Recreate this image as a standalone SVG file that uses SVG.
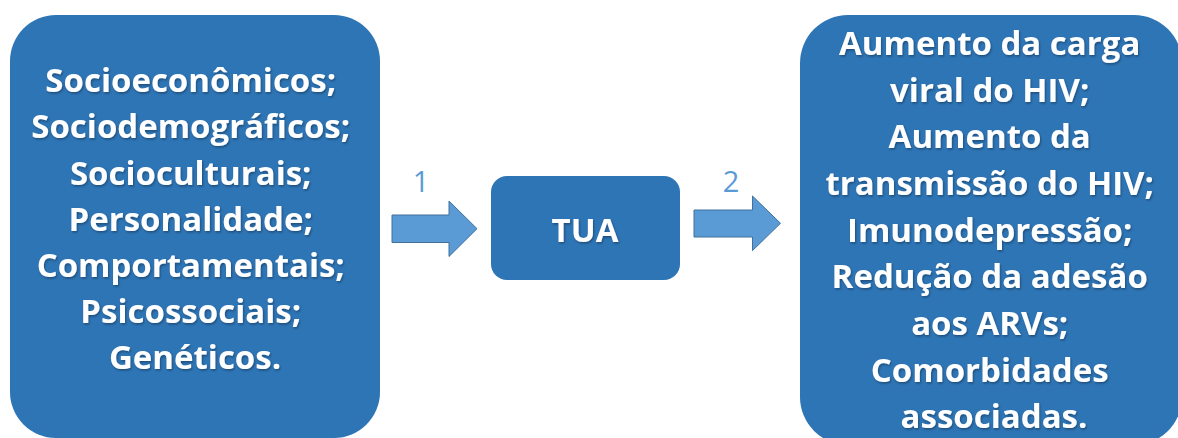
<svg xmlns="http://www.w3.org/2000/svg" width="1178" height="438" viewBox="0 0 1178 438">
  <defs>
    <filter id="ts" x="-10%" y="-10%" width="120%" height="130%">
      <feDropShadow dx="1" dy="1.5" stdDeviation="1" flood-color="#000" flood-opacity="0.35"/>
    </filter>
  </defs>
  <style>
    .box { fill: #2E75B6; }
    .arrow { fill: #5B9BD5; stroke: #41719C; stroke-width: 1; }
    .t { font-family: "Open Sans", "Liberation Sans", sans-serif; font-weight: bold; font-size: 33px; fill: #FFFFFF; text-anchor: middle; filter: url(#ts); }
    .lbl { font-family: "Open Sans", "Liberation Sans", sans-serif; font-size: 29px; fill: #5B9BD5; text-anchor: middle; }
  </style>
  <rect width="1178" height="438" fill="#FFFFFF"/>
  <g id="node-fatores">
    <rect class="box" x="10" y="15" width="370" height="423" rx="46" ry="46"/>
    <text class="t" x="195">
      <tspan x="195" y="92">Socioeconômicos;</tspan>
      <tspan x="195" y="138">Sociodemográficos;</tspan>
      <tspan x="195" y="185">Socioculturais;</tspan>
      <tspan x="195" y="231">Personalidade;</tspan>
      <tspan x="195" y="277">Comportamentais;</tspan>
      <tspan x="195" y="323">Psicossociais;</tspan>
      <tspan x="195" y="369">Genéticos.</tspan>
    </text>
  </g>
  <g id="node-tua">
    <rect class="box" x="491" y="176" width="189" height="104" rx="16" ry="16"/>
    <text class="t" x="585" y="242">TUA</text>
  </g>
  <g id="node-consequencias">
    <rect class="box" x="800" y="15" width="382" height="430" rx="48" ry="48"/>
    <text class="t">
      <tspan x="994" y="55">Aumento da carga</tspan>
      <tspan x="994" y="102">viral do HIV;</tspan>
      <tspan x="994" y="148">Aumento da</tspan>
      <tspan x="994" y="195">transmissão do HIV;</tspan>
      <tspan x="994" y="242">Imunodepressão;</tspan>
      <tspan x="994" y="288">Redução da adesão</tspan>
      <tspan x="994" y="335">aos ARVs;</tspan>
      <tspan x="994" y="382">Comorbidades</tspan>
      <tspan x="994" y="428">associadas.</tspan>
    </text>
  </g>
  <g id="connectors">
    <polygon class="arrow" points="392,215 449,215 449,201 477,228.7 449,256.5 449,242.5 392,242.5"/>
    <text class="lbl" x="421" y="192">1</text>
    <polygon class="arrow" points="694,210 752.5,210 752.5,196 780.5,223.3 752.5,250.6 752.5,237 694,237"/>
    <text class="lbl" x="731" y="192">2</text>
  </g>
</svg>
